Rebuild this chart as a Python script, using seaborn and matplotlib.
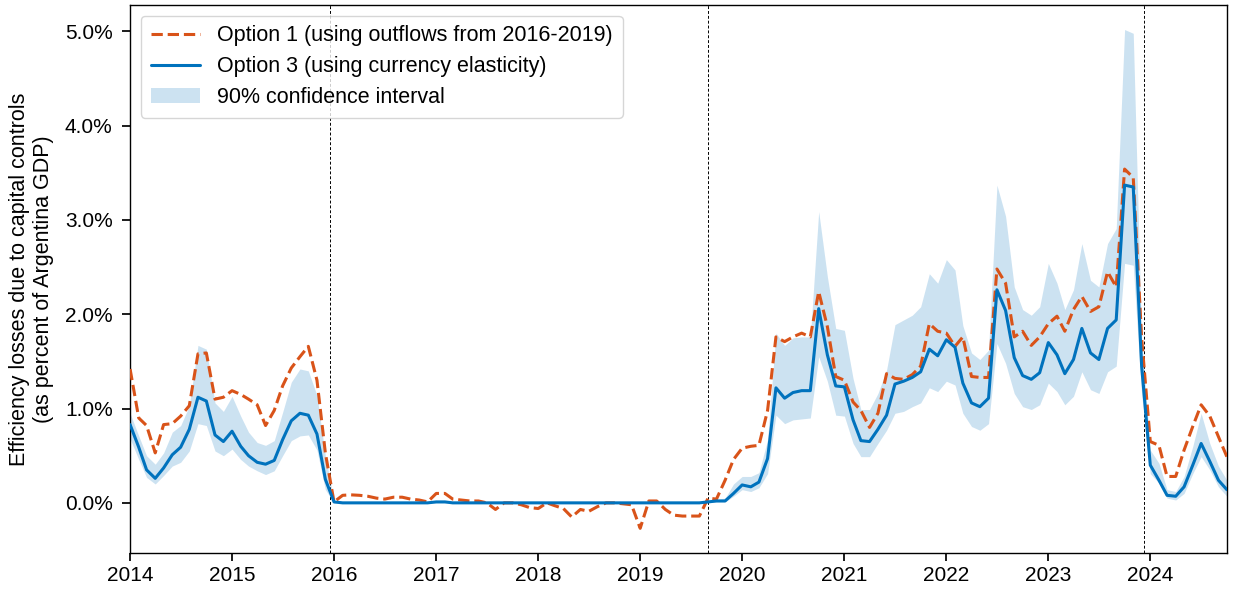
import matplotlib
matplotlib.use("Agg")
import matplotlib.pyplot as plt
import matplotlib.dates as mdates
import seaborn as sns
import pandas as pd

# Monthly series, Jan 2014 - Oct 2024 (values in % of GDP)
start_month = "2014-01-01"
n_months = 130

option1 = [
    1.42, 0.90, 0.82, 0.53, 0.83, 0.84, 0.92, 1.03, 1.58, 1.59, 1.10, 1.12,  # 2014
    1.19, 1.15, 1.10, 1.04, 0.82, 0.98, 1.24, 1.43, 1.55, 1.66, 1.30, 0.53,  # 2015
    0.01, 0.08, 0.085, 0.08, 0.07, 0.05, 0.04, 0.06, 0.06, 0.04, 0.03, 0.01,  # 2016
    0.10, 0.10, 0.04, 0.03, 0.02, 0.02, 0.00, -0.07, 0.00, 0.00, -0.02, -0.05,  # 2017
    -0.06, 0.00, -0.03, -0.06, -0.15, -0.07, -0.09, -0.04, 0.00, 0.00, -0.01, -0.02,  # 2018
    -0.27, 0.02, 0.02, -0.07, -0.13, -0.14, -0.14, -0.14, 0.05, 0.04, 0.24, 0.46,  # 2019
    0.58, 0.60, 0.61, 0.98, 1.76, 1.71, 1.76, 1.80, 1.76, 2.24, 1.87, 1.34,  # 2020
    1.30, 1.07, 0.98, 0.80, 0.95, 1.37, 1.32, 1.31, 1.36, 1.45, 1.90, 1.82,  # 2021
    1.80, 1.66, 1.76, 1.34, 1.33, 1.33, 2.48, 2.33, 1.76, 1.82, 1.67, 1.76,  # 2022
    1.90, 1.98, 1.82, 2.05, 2.19, 2.03, 2.08, 2.45, 2.29, 3.54, 3.45, 1.75,  # 2023
    0.65, 0.61, 0.28, 0.28, 0.56, 0.81, 1.04, 0.92, 0.70, 0.49,  # 2024
]

option3 = [
    0.83, 0.59, 0.35, 0.26, 0.37, 0.51, 0.59, 0.78, 1.12, 1.08, 0.72, 0.65,  # 2014
    0.76, 0.60, 0.50, 0.43, 0.41, 0.45, 0.67, 0.87, 0.95, 0.93, 0.73, 0.25,  # 2015
    0.01, 0.00, 0.00, 0.00, 0.00, 0.00, 0.00, 0.00, 0.00, 0.00, 0.00, 0.00,  # 2016
    0.01, 0.01, 0.00, 0.00, 0.00, 0.00, 0.00, 0.00, 0.00, 0.00, 0.00, 0.00,  # 2017
    0.00, 0.00, 0.00, 0.00, 0.00, 0.00, 0.00, 0.00, 0.00, 0.00, 0.00, 0.00,  # 2018
    0.00, 0.00, 0.00, 0.00, 0.00, 0.00, 0.00, 0.00, 0.01, 0.02, 0.02, 0.10,  # 2019
    0.19, 0.17, 0.22, 0.47, 1.22, 1.11, 1.17, 1.19, 1.19, 2.06, 1.57, 1.24,  # 2020
    1.23, 0.88, 0.66, 0.65, 0.78, 0.93, 1.26, 1.29, 1.33, 1.39, 1.63, 1.56,  # 2021
    1.73, 1.65, 1.27, 1.06, 1.02, 1.11, 2.26, 2.04, 1.54, 1.35, 1.31, 1.38,  # 2022
    1.70, 1.57, 1.37, 1.52, 1.85, 1.59, 1.52, 1.85, 1.94, 3.37, 3.35, 1.45,  # 2023
    0.40, 0.24, 0.08, 0.07, 0.17, 0.40, 0.63, 0.44, 0.24, 0.14,  # 2024
]

ci_upper = [
    0.95, 0.71, 0.50, 0.41, 0.53, 0.75, 0.82, 1.03, 1.67, 1.63, 1.06, 0.97,  # 2014
    1.13, 0.92, 0.75, 0.64, 0.61, 0.66, 0.96, 1.28, 1.42, 1.40, 1.14, 0.50,  # 2015
    0.02, 0.01, 0.01, 0.01, 0.01, 0.01, 0.01, 0.01, 0.01, 0.01, 0.01, 0.01,  # 2016
    0.02, 0.02, 0.01, 0.01, 0.01, 0.01, 0.01, 0.01, 0.01, 0.01, 0.01, 0.01,  # 2017
    0.01, 0.01, 0.01, 0.01, 0.01, 0.01, 0.01, 0.01, 0.01, 0.01, 0.01, 0.01,  # 2018
    0.01, 0.01, 0.01, 0.01, 0.01, 0.01, 0.01, 0.01, 0.02, 0.04, 0.05, 0.20,  # 2019
    0.28, 0.28, 0.32, 0.67, 1.80, 1.67, 1.75, 1.76, 1.76, 3.09, 2.40, 1.85,  # 2020
    1.83, 1.32, 0.99, 0.99, 1.16, 1.41, 1.89, 1.94, 1.99, 2.08, 2.43, 2.33,  # 2021
    2.58, 2.47, 1.88, 1.59, 1.52, 1.62, 3.37, 3.04, 2.29, 2.05, 1.99, 2.08,  # 2022
    2.54, 2.33, 2.05, 2.26, 2.75, 2.36, 2.29, 2.75, 2.91, 5.02, 4.98, 1.75,  # 2023
    0.56, 0.42, 0.14, 0.12, 0.28, 0.60, 0.95, 0.63, 0.39, 0.24,  # 2024
]

ci_lower = [
    0.68, 0.46, 0.27, 0.20, 0.29, 0.39, 0.43, 0.55, 0.84, 0.82, 0.55, 0.50,  # 2014
    0.57, 0.46, 0.39, 0.34, 0.30, 0.34, 0.50, 0.66, 0.71, 0.72, 0.56, 0.14,  # 2015
    0.00, 0.00, 0.00, 0.00, 0.00, 0.00, 0.00, 0.00, 0.00, 0.00, 0.00, 0.00,  # 2016
    0.00, 0.00, 0.00, 0.00, 0.00, 0.00, 0.00, 0.00, 0.00, 0.00, 0.00, 0.00,  # 2017
    0.00, 0.00, 0.00, 0.00, 0.00, 0.00, 0.00, 0.00, 0.00, 0.00, 0.00, 0.00,  # 2018
    0.00, 0.00, 0.00, 0.00, 0.00, 0.00, 0.00, 0.00, 0.00, 0.01, 0.01, 0.07,  # 2019
    0.14, 0.12, 0.16, 0.31, 0.93, 0.84, 0.88, 0.89, 0.90, 1.55, 1.29, 0.93,  # 2020
    0.92, 0.63, 0.49, 0.49, 0.63, 0.77, 0.95, 0.97, 1.02, 1.06, 1.22, 1.18,  # 2021
    1.29, 1.25, 0.95, 0.81, 0.77, 0.84, 1.69, 1.48, 1.16, 1.02, 0.99, 1.04,  # 2022
    1.27, 1.18, 1.04, 1.13, 1.39, 1.20, 1.16, 1.39, 1.45, 2.54, 2.52, 1.15,  # 2023
    0.31, 0.21, 0.05, 0.03, 0.10, 0.31, 0.49, 0.35, 0.17, 0.07,  # 2024
]

# Policy change dates (vertical markers)
event_dates = ["2015-12-17", "2019-09-01", "2023-12-10"]

label_opt1 = "Option 1 (using outflows from 2016-2019)"
label_opt3 = "Option 3 (using currency elasticity)"
label_ci = "90% confidence interval"

c_orange = "#D95319"
c_blue = "#0072BD"

sns.set_theme(style="ticks")
plt.rcParams.update(
    {
        "font.family": ["Liberation Sans", "DejaVu Sans"],
        "font.size": 15,
        "axes.labelsize": 15.5,
        "xtick.labelsize": 15,
        "ytick.labelsize": 15,
        "legend.fontsize": 15.5,
        "axes.edgecolor": "black",
        "axes.linewidth": 1.0,
        "xtick.color": "black",
        "ytick.color": "black",
        "ytick.major.pad": 6.5,
        "text.color": "black",
        "axes.labelcolor": "black",
    }
)

dates = pd.date_range(start_month, periods=n_months, freq="MS")
df = pd.DataFrame(
    {
        "date": dates,
        "opt1": option1,
        "opt3": option3,
        "lo": ci_lower,
        "hi": ci_upper,
    }
)

fig, ax = plt.subplots(figsize=(12.33, 5.9), dpi=100)

band = ax.fill_between(
    df["date"], df["lo"], df["hi"], color=c_blue, alpha=0.2, linewidth=0, zorder=1
)
sns.lineplot(
    data=df, x="date", y="opt1", ax=ax, color=c_orange, linestyle="--",
    linewidth=2.2, zorder=3,
)
sns.lineplot(
    data=df, x="date", y="opt3", ax=ax, color=c_blue, linewidth=2.2, zorder=4,
)

for d in event_dates:
    ax.axvline(pd.Timestamp(d), color="black", linestyle="--", linewidth=0.7,
               dashes=(3, 2), zorder=2)

ax.set_xlim(dates[0], dates[-1])
ax.set_ylim(-0.53, 5.28)
ax.set_yticks([0, 1, 2, 3, 4, 5])
ax.yaxis.set_major_formatter(plt.FuncFormatter(lambda v, p: f"{v:.1f}%"))
ax.xaxis.set_major_locator(mdates.YearLocator())
ax.xaxis.set_major_formatter(mdates.DateFormatter("%Y"))
ax.set_xlabel("")
ax.set_ylabel("Efficiency losses due to capital controls\n(as percent of Argentina GDP)",
              labelpad=8)
for s in ax.spines.values():
    s.set_visible(True)

lines = ax.get_lines()
handles = [lines[0], lines[1], band]
ax.legend(handles, [label_opt1, label_opt3, label_ci], loc="upper left",
          frameon=True, fancybox=True, framealpha=0.8, edgecolor="#cccccc",
          handlelength=2.3, borderpad=0.45, labelspacing=0.45)

fig.subplots_adjust(left=0.1055, right=0.995, top=0.9915, bottom=0.063)
fig.savefig("out.png", dpi=100)
